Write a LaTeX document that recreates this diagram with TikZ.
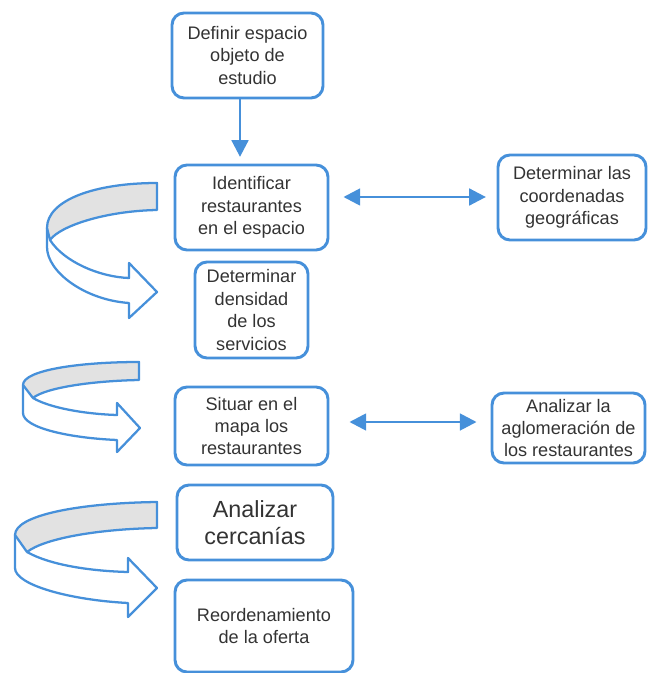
\documentclass[tikz,border=0pt]{standalone}
\usepackage{fontspec}
\setmainfont{Liberation Sans}
\usetikzlibrary{arrows.meta}
\definecolor{bl}{HTML}{4690DA}
\definecolor{rg}{HTML}{E2E2E2}
\definecolor{tx}{HTML}{333333}
\begin{document}
\begin{tikzpicture}[x=0.75pt,y=-0.75pt,
 >={Triangle[length=12.5pt,width=12.5pt]},
 box/.style={draw=bl, line width=2.2pt, rounded corners=9pt, align=center, text=tx, font=\fontsize{13.6}{16.8}\selectfont, inner sep=0pt},
 link/.style={draw=bl, line width=2pt},
 rib/.style={draw=bl, line width=1.7pt, line join=round}]
\useasboundingbox (0,0) rectangle (647,673);
\node[box, minimum width=113.25pt, minimum height=63.75pt] (b1) at (247.5,55.5) {Definir espacio\\objeto de\\estudio};
\node[box, minimum width=114.75pt, minimum height=63.75pt] (b2) at (251.5,207.5) {Identificar\\restaurantes\\en el espacio};
\node[box, minimum width=111pt, minimum height=63.75pt] (b3) at (572,197.5) {Determinar las\\coordenadas\\geográficas};
\node[box, minimum width=84.75pt, minimum height=72pt] (b4) at (251.5,310) {Determinar\\densidad\\de los\\servicios};
\node[box, minimum width=114.75pt, minimum height=58.5pt] (b5) at (251.5,426) {Situar en el\\mapa los\\restaurantes};
\node[box, minimum width=114.75pt, minimum height=52.5pt] (b6) at (568.5,428) {Analizar la\\aglomeración de\\los restaurantes};
\node[box, minimum width=117pt, minimum height=56.25pt, font=\fontsize{17.5}{20.5}\selectfont] (b7) at (255,522.5) {Analizar\\cercanías};
\node[box, minimum width=133.5pt, minimum height=69pt] (b8) at (264,626) {Reordenamiento\\de la oferta};
% connectors
\coordinate (ax) at (240,0);
\coordinate (r1) at (0,197);
\coordinate (r2) at (0,422);
\draw[link, ->, shorten >=5pt] (b1.south -| ax) -- (b2.north -| ax);
\draw[link, <->, shorten <=10.5pt, shorten >=8pt] (b2.east |- r1) -- (b3.west |- r1);
\draw[link, <->, shorten <=15pt, shorten >=10.5pt] (b5.east |- r2) -- (b6.west |- r2);
% ribbon 1
\filldraw[rib, fill=rg] (157,183) -- (157,210) .. controls (105,211) and (60,226) .. (50,240) -- (47,228) .. controls (47,200) and (95,183) .. cycle;
\draw[rib] (50,240) .. controls (64,262) and (100,277) .. (129,278) -- (129,263) -- (157,292) -- (129,318) -- (129,303) .. controls (85,300) and (47,272) .. (47,247) -- (47,228);
% ribbon 2
\filldraw[rib, fill=rg] (139,362) -- (139,380) .. controls (90,381) and (45,388) .. (33,398) -- (23,385) .. controls (23,370) and (80,362) .. cycle;
\draw[rib] (33,398) .. controls (50,408) and (85,414) .. (117,415) -- (117,403) -- (140,428) -- (117,452) -- (117,440) .. controls (70,438) and (23,428) .. (23,413) -- (23,385);
% ribbon 3
\filldraw[rib, fill=rg] (157,502) -- (157,528) .. controls (100,529) and (45,538) .. (27,552) -- (15,535) .. controls (15,515) and (80,503) .. cycle;
\draw[rib] (27,552) .. controls (50,565) and (90,571) .. (128,572) -- (128,558) -- (157,588) -- (128,617) -- (128,603) .. controls (70,600) and (15,585) .. (15,568) -- (15,535);
\end{tikzpicture}
\end{document}
